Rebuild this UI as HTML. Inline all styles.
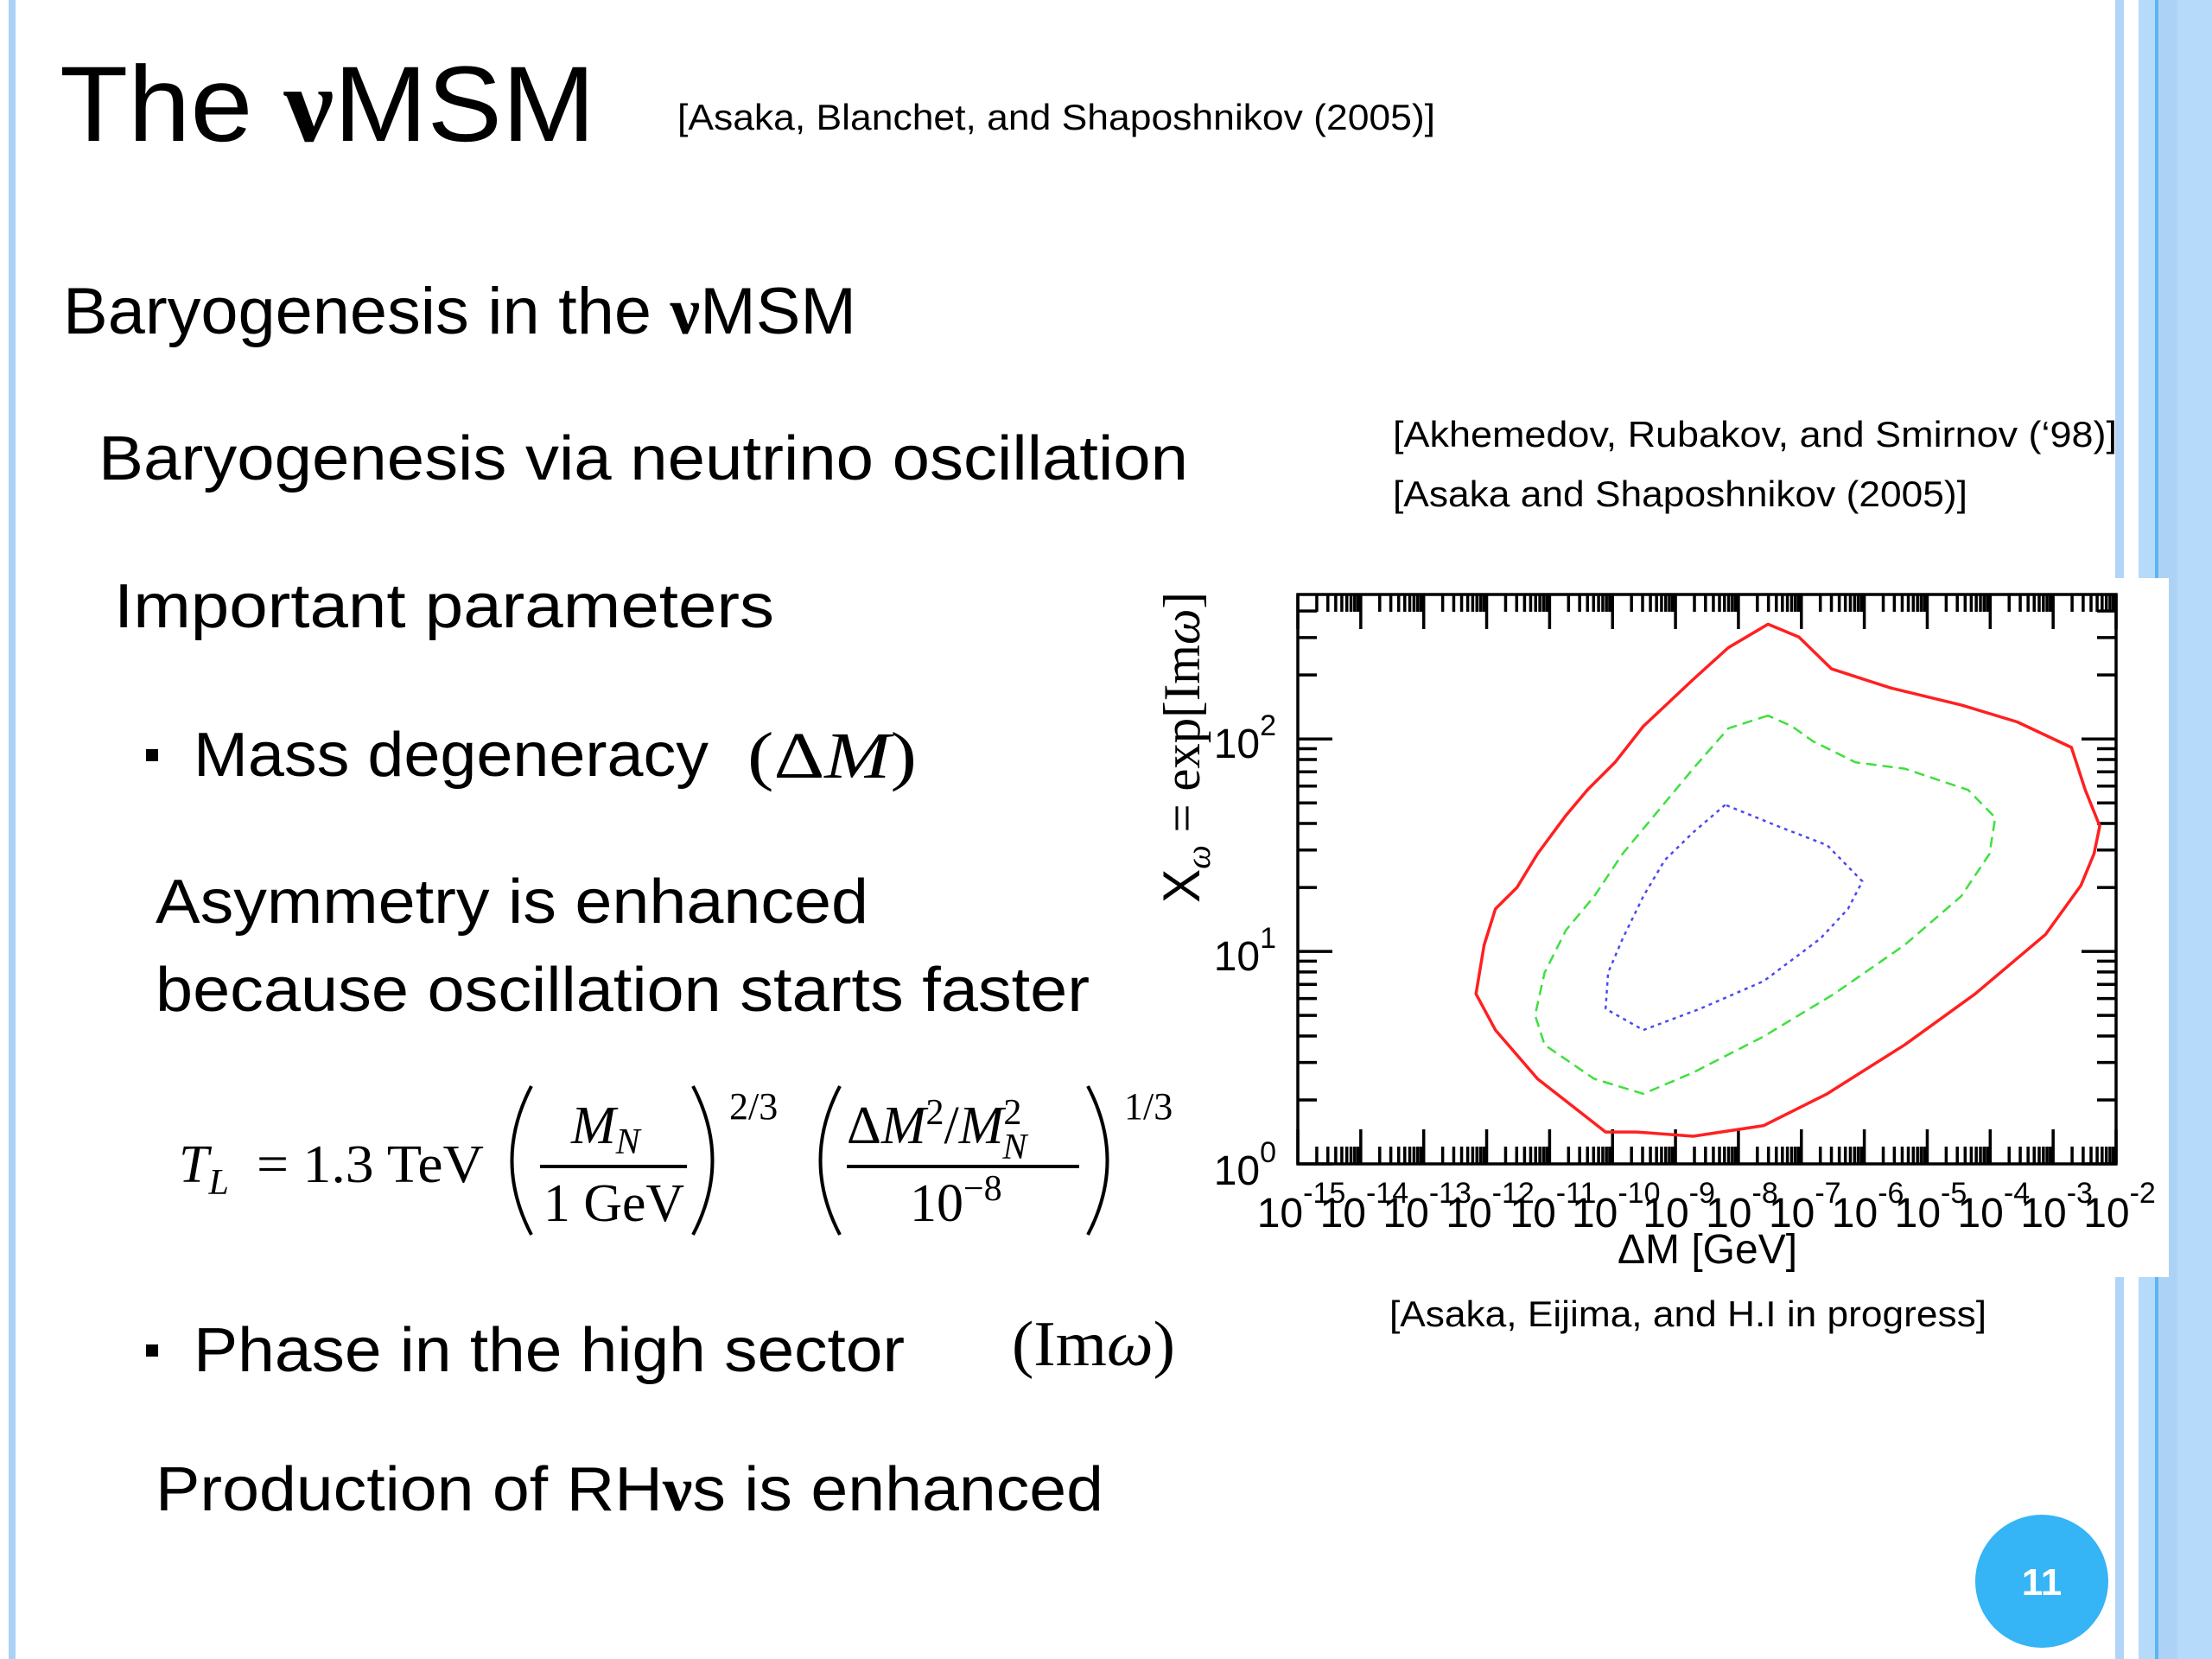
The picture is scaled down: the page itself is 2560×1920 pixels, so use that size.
<!DOCTYPE html>
<html><head><meta charset="utf-8"><title>The νMSM</title>
<style>
html,body{margin:0;padding:0;background:#fff;}
svg{display:block;}
.cal{font-family:"Liberation Sans","DejaVu Sans",sans-serif;fill:#000;}
.ser{font-family:"Liberation Serif","DejaVu Serif",serif;fill:#000;}
</style></head>
<body>
<svg id="slide" width="2560" height="1920" viewBox="0 0 2560 1920" xmlns="http://www.w3.org/2000/svg">
  <rect x="0" y="0" width="2560" height="1920" fill="#fff"/>
  <g>
    <rect x="10" y="0" width="8" height="1920" fill="#aad2f7"/>
  </g>
  <g>
    <rect x="2448" y="0" width="10" height="1920" fill="#b0d5f8"/>
    <rect x="2475" y="0" width="85" height="1920" fill="#b6daf9"/>
    <rect x="2494" y="0" width="4" height="1920" fill="#5db4f2"/>
    <rect x="2498" y="0" width="22" height="1920" fill="#acd3f6"/>
  </g>
  <rect x="1470" y="669" width="1040" height="809" fill="#fff"/>

  <text class="cal" x="69" y="163" font-size="124" textLength="620" lengthAdjust="spacingAndGlyphs">The <tspan class="ser" font-weight="bold">ν</tspan>MSM</text>
  <text class="cal" x="784" y="150" font-size="42" textLength="877" lengthAdjust="spacingAndGlyphs">[Asaka, Blanchet, and Shaposhnikov (2005)]</text>
  <text class="cal" x="73" y="386" font-size="76" textLength="918" lengthAdjust="spacingAndGlyphs">Baryogenesis in the <tspan class="ser" font-weight="bold">ν</tspan>MSM</text>
  <text class="cal" x="114" y="555" font-size="72" textLength="1261" lengthAdjust="spacingAndGlyphs">Baryogenesis via neutrino oscillation</text>
  <text class="cal" x="1612" y="517" font-size="42" textLength="838" lengthAdjust="spacingAndGlyphs">[Akhemedov, Rubakov, and Smirnov (‘98)]</text>
  <text class="cal" x="1612" y="586" font-size="42" textLength="665" lengthAdjust="spacingAndGlyphs">[Asaka and Shaposhnikov (2005)]</text>
  <text class="cal" x="132" y="726" font-size="72" textLength="764" lengthAdjust="spacingAndGlyphs">Important parameters</text>
  <rect x="169" y="867" width="14" height="14" fill="#000"/>
  <text class="cal" x="224" y="898" font-size="72" textLength="596" lengthAdjust="spacingAndGlyphs">Mass degeneracy</text>
  <text class="ser" x="865" y="900" font-size="76" textLength="196" lengthAdjust="spacingAndGlyphs">(Δ<tspan font-style="italic">M</tspan>)</text>
  <text class="cal" x="180" y="1068" font-size="72" textLength="825" lengthAdjust="spacingAndGlyphs">Asymmetry is enhanced</text>
  <text class="cal" x="180" y="1170" font-size="72" textLength="1081" lengthAdjust="spacingAndGlyphs">because oscillation starts faster</text>

  <g class="ser" font-size="62">
    <text x="207" y="1368" font-style="italic">T<tspan font-size="42" dy="14">L</tspan></text>
    <text x="297" y="1368" textLength="263" lengthAdjust="spacingAndGlyphs">= 1.3 TeV</text>
    <path d="M615,1257 Q570,1343 615,1429" fill="none" stroke="#000" stroke-width="4"/>
    <text x="661" y="1323" font-style="italic">M<tspan font-size="42" dy="12">N</tspan></text>
    <rect x="625" y="1348" width="170" height="4" fill="#000"/>
    <text x="629" y="1413" textLength="163" lengthAdjust="spacingAndGlyphs">1 GeV</text>
    <path d="M802,1257 Q847,1343 802,1429" fill="none" stroke="#000" stroke-width="4"/>
    <text x="844" y="1295" font-size="44">2/3</text>
    <path d="M972,1257 Q927,1343 972,1429" fill="none" stroke="#000" stroke-width="4"/>
    <text x="980" y="1323">Δ<tspan font-style="italic">M</tspan><tspan font-size="42" dy="-22">2</tspan><tspan dy="22">/</tspan><tspan font-style="italic">M</tspan><tspan font-size="42" dy="-22">2</tspan><tspan font-size="42" font-style="italic" dx="-22" dy="40">N</tspan></text>
    <rect x="980" y="1348" width="269" height="4" fill="#000"/>
    <text x="1053" y="1413">10<tspan font-size="42" dy="-24">−8</tspan></text>
    <path d="M1259,1257 Q1304,1343 1259,1429" fill="none" stroke="#000" stroke-width="4"/>
    <text x="1301" y="1295" font-size="44">1/3</text>
  </g>

  <rect x="169" y="1556" width="14" height="14" fill="#000"/>
  <text class="cal" x="224" y="1587" font-size="72" textLength="823" lengthAdjust="spacingAndGlyphs">Phase in the high sector</text>
  <text class="ser" x="1171" y="1580" font-size="74" textLength="189" lengthAdjust="spacingAndGlyphs">(Im<tspan font-style="italic">ω</tspan>)</text>
  <text class="cal" x="180" y="1748" font-size="72" textLength="1097" lengthAdjust="spacingAndGlyphs">Production of RH<tspan class="ser" font-weight="bold">ν</tspan>s is enhanced</text>
  <text class="cal" x="1608" y="1535" font-size="42" textLength="691" lengthAdjust="spacingAndGlyphs">[Asaka, Eijima, and H.I in progress]</text>

  <g>
    <circle cx="2363" cy="1830" r="77" fill="#35b4f6"/>
    <text class="cal" x="2363" y="1846" font-size="44" font-weight="bold" text-anchor="middle" style="fill:#fff">11</text>
  </g>

  <g id="chart"></g>
</svg>
<script>
const redLogX = [-7.53,-7.04,-6.52,-5.58,-4.46,-3.57,-2.71,-2.49,-2.26,-2.35,-2.56,-3.12,-4.24,-5.36,-6.59,-7.60,-8.72,-9.62,-10.11,-11.19,-11.86,-12.17,-12.04,-11.86,-11.52,-11.19,-10.74,-10.40,-9.96,-9.51,-8.72,-8.16];
const redLogY = [2.54,2.48,2.33,2.24,2.16,2.08,1.96,1.76,1.59,1.46,1.31,1.08,0.80,0.56,0.33,0.18,0.13,0.15,0.15,0.40,0.63,0.80,1.03,1.20,1.30,1.46,1.64,1.76,1.89,2.06,2.28,2.43];
const greenLogX = [-7.53,-8.16,-8.72,-9.28,-9.84,-10.29,-10.74,-11.08,-11.23,-11.08,-10.29,-9.51,-8.72,-7.60,-6.48,-5.36,-4.46,-4.01,-3.92,-4.35,-5.36,-6.14,-6.82,-7.15];
const greenLogY = [2.11,2.05,1.86,1.66,1.46,1.26,1.10,0.90,0.70,0.56,0.40,0.33,0.43,0.60,0.80,1.03,1.26,1.46,1.63,1.76,1.86,1.89,1.99,2.06];
const blueLogX = [-8.21,-8.72,-9.17,-9.51,-9.84,-10.07,-10.11,-9.51,-8.61,-7.60,-6.70,-6.26,-6.03,-6.59,-7.38];
const blueLogY = [1.69,1.56,1.43,1.26,1.06,0.90,0.73,0.63,0.73,0.86,1.06,1.20,1.33,1.50,1.59];
const xTickExps = [-15,-14,-13,-12,-11,-10,-9,-8,-7,-6,-5,-4,-3,-2];
const yTickExps = [0,1,2];
const xTickLabels = ["-15","-14","-13","-12","-11","-10","-9","-8","-7","-6","-5","-4","-3","-2"];
const yTickLabels = ["0","1","2"];

const X0=1502, X1=2449, Y0=1347, Y1=688;
const xMin=-15, xMax=-2, yMin=0, yMax=2.68;
function sx(v){return X0+(v-xMin)*(X1-X0)/(xMax-xMin);}
function sy(v){return Y0-(v-yMin)*(Y0-Y1)/(yMax-yMin);}
const NS="http://www.w3.org/2000/svg";
const chart=document.getElementById('chart');
function mk(tag,attrs,parent){const e=document.createElementNS(NS,tag);for(const k in attrs)e.setAttribute(k,attrs[k]);(parent||chart).appendChild(e);return e;}

const ticks=mk('g',{stroke:'#000','stroke-width':3.5});


let d='';
for(let e=xMin;e<xMax;e++){for(let m=1;m<10;m++){const v=e+Math.log10(m);if(v>xMax)break;const x=sx(v);const L=m===1?40:20;d+=`M${x},${Y0}v${-L}M${x},${Y1}v${L}`;}}
d+=`M${sx(xMax)},${Y0}v-40M${sx(xMax)},${Y1}v40`;
for(let e=yMin;e<3;e++){for(let m=1;m<10;m++){const v=e+Math.log10(m);if(v>yMax)break;const y=sy(v);const L=m===1?40:22;d+=`M${X0},${y}h${L}M${X1},${y}h${-L}`;}}
mk('path',{d:d,fill:'none'},ticks);

const frame=mk('rect',{x:X0,y:Y1,width:X1-X0,height:Y0-Y1,fill:'none',stroke:'#000','stroke-width':3.5});



function contour(xs,ys,color,dash,name,w){
  let p='';for(let i=0;i<xs.length;i++){p+=(i?'L':'M')+sx(xs[i]).toFixed(1)+','+sy(ys[i]).toFixed(1);}p+='Z';
  const el=mk('path',{d:p,fill:'none',stroke:color,'stroke-width':w,'stroke-dasharray':dash,'stroke-linejoin':'round'});
  
  
}
contour(redLogX,redLogY,'#ff2020','none','contour-red-solid',3.5);
contour(greenLogX,greenLogY,'#3ee03e','12 7','contour-green-dashed',2.5);
contour(blueLogX,blueLogY,'#4a4af0','4 5','contour-blue-dotted',2.5);

xTickExps.forEach((e,i)=>{
  const t=mk('text',{x:sx(e)+4,y:1420,'text-anchor':'middle','font-size':48,'font-family':'Liberation Sans, sans-serif',fill:'#000'});
  
  
  const a=document.createElementNS(NS,'tspan');a.textContent='10';t.appendChild(a);
  const b=document.createElementNS(NS,'tspan');b.setAttribute('dy','-28');b.setAttribute('font-size','34');b.textContent=xTickLabels[i];t.appendChild(b);
});
yTickExps.forEach((e,i)=>{
  const t=mk('text',{x:1477,y:sy(e)+(e===0?24:22),'text-anchor':'end','font-size':48,'font-family':'Liberation Sans, sans-serif',fill:'#000'});
  
  
  const a=document.createElementNS(NS,'tspan');a.textContent='10';t.appendChild(a);
  const b=document.createElementNS(NS,'tspan');b.setAttribute('dy','-26');b.setAttribute('font-size','34');b.textContent=yTickLabels[i];t.appendChild(b);
});
const xt=mk('text',{x:1976,y:1462,'text-anchor':'middle','font-size':48,'font-family':'Liberation Sans, sans-serif',fill:'#000'});
xt.textContent='ΔM [GeV]';


const yt=mk('text',{x:0,y:0,'text-anchor':'middle','font-size':60,'font-family':'Liberation Serif, serif',fill:'#000',transform:'translate(1388,865) rotate(-90)',textLength:360,lengthAdjust:'spacingAndGlyphs'});


yt.innerHTML='<tspan font-family="Liberation Sans, sans-serif">X</tspan><tspan font-size="40" dy="12" font-style="italic">ω</tspan><tspan dy="-12"> = exp[Im</tspan><tspan font-style="italic">ω</tspan>]';
</script>
</body></html>
